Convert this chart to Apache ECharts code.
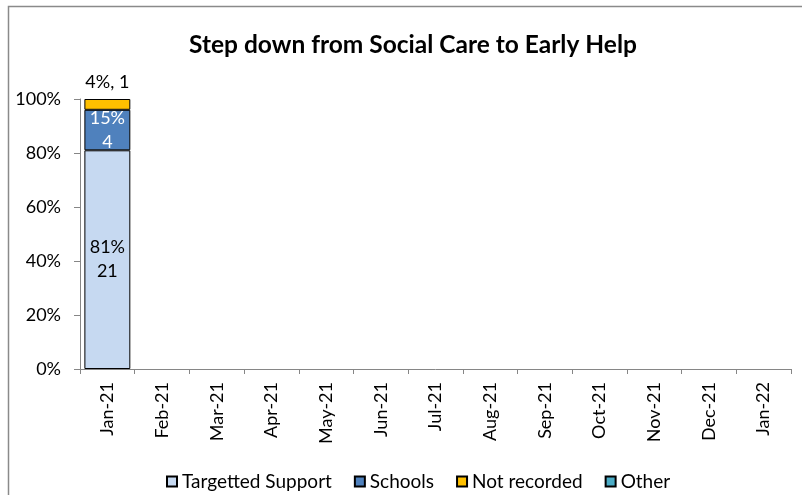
<!DOCTYPE html>
<html>
<head>
<meta charset="utf-8">
<script src="https://cdn.jsdelivr.net/npm/echarts@6/dist/echarts.min.js"></script>
<style>
  html, body { margin: 0; padding: 0; background: #fff; }
  #chart { width: 802px; height: 495px; }
</style>
</head>
<body>
<div id="chart"></div>
<script>
// Months on the category axis
const months = ['Jan-21', 'Feb-21', 'Mar-21', 'Apr-21', 'May-21', 'Jun-21', 'Jul-21',
                'Aug-21', 'Sep-21', 'Oct-21', 'Nov-21', 'Dec-21', 'Jan-22'];

// Share of step-downs per destination (%)
const targettedPct   = [81, null, null, null, null, null, null, null, null, null, null, null, null];
const schoolsPct     = [15, null, null, null, null, null, null, null, null, null, null, null, null];
const notRecordedPct = [4,  null, null, null, null, null, null, null, null, null, null, null, null];
const otherPct       = [null, null, null, null, null, null, null, null, null, null, null, null, null];

// Number of cases per destination
const targettedCount   = [21, null, null, null, null, null, null, null, null, null, null, null, null];
const schoolsCount     = [4,  null, null, null, null, null, null, null, null, null, null, null, null];
const notRecordedCount = [1,  null, null, null, null, null, null, null, null, null, null, null, null];
const otherCount       = [null, null, null, null, null, null, null, null, null, null, null, null, null];

// Y axis ticks
const yMin = 0, yMax = 100, yStep = 20;

const FONT = 'Lato, "Open Sans", sans-serif';
const chart = echarts.init(document.getElementById('chart'), null, { renderer: 'canvas' });

function barSeries(name, pct, counts, color, labelOpts) {
  return {
    name: name,
    type: 'bar',
    stack: 'total',
    data: pct,
    barCategoryGap: '16%',
    itemStyle: { color: color, borderColor: '#000', borderWidth: 1 },
    label: Object.assign({
      show: true,
      fontFamily: FONT,
      fontSize: 18,
      lineHeight: 24,
      formatter: p => (p.value == null ? '' : p.value + '%\n' + counts[p.dataIndex])
    }, labelOpts || {})
  };
}

chart.setOption({
  animation: false,
  backgroundColor: '#fff',
  title: {
    text: 'Step down from Social Care to Early Help',
    left: 408,
    textAlign: 'center',
    top: 28,
    textStyle: { fontFamily: FONT, fontWeight: 'bold', fontSize: 24.5, color: '#000' }
  },
  graphic: [{
    type: 'rect',
    shape: { x: 8.5, y: 6.5, width: 820, height: 520 },
    style: { fill: null, stroke: '#8a8a8a', lineWidth: 1.5 },
    silent: true
  }],
  legend: {
    top: 467,
    left: 161,
    icon: 'rect',
    itemWidth: 10,
    itemHeight: 10,
    itemGap: 22,
    textStyle: { fontFamily: FONT, fontSize: 19, color: '#000' },
    data: ['Targetted Support', 'Schools', 'Not recorded', 'Other']
  },
  grid: { left: 80, right: 11, top: 99, bottom: 126, containLabel: false },
  xAxis: {
    type: 'category',
    data: months,
    axisLine: { lineStyle: { color: '#868686', width: 1 } },
    axisTick: { show: true, length: 5, lineStyle: { color: '#868686' } },
    axisLabel: { rotate: 90, margin: 13, fontFamily: FONT, fontSize: 18, color: '#000' }
  },
  yAxis: {
    type: 'value',
    min: yMin, max: yMax, interval: yStep,
    splitLine: { show: false },
    axisLine: { show: true, lineStyle: { color: '#868686', width: 1 } },
    axisTick: { show: true, length: 6, lineStyle: { color: '#868686' } },
    axisLabel: { formatter: '{value}%', margin: 19, fontFamily: FONT, fontSize: 18, color: '#000' }
  },
  series: [
    barSeries('Targetted Support', targettedPct, targettedCount, '#C6D9F1',
      { position: 'inside', color: '#000' }),
    barSeries('Schools', schoolsPct, schoolsCount, '#4F81BD',
      { position: 'inside', color: '#fff' }),
    barSeries('Not recorded', notRecordedPct, notRecordedCount, '#FFC000',
      { position: 'top', color: '#000', distance: 5,
        formatter: p => (p.value == null ? '' : p.value + '%, ' + notRecordedCount[p.dataIndex]) }),
    barSeries('Other', otherPct, otherCount, '#4BACC6', { show: false })
  ]
});
</script>
</body>
</html>
